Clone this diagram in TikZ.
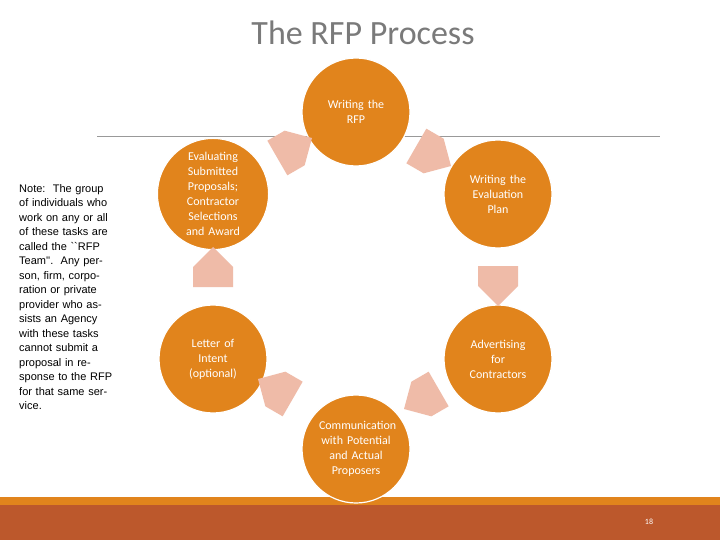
\documentclass[tikz,border=0pt]{standalone}
\usepackage{fontspec}
\setmainfont{Carlito}
\newfontfamily\notefont{Liberation Sans}
\usetikzlibrary{shapes.arrows}
\definecolor{org}{HTML}{E1841C}
\definecolor{dark}{HTML}{BC582C}
\definecolor{pinkarr}{HTML}{EFBBA8}
\definecolor{ttl}{HTML}{7A7A7A}
\begin{document}
\begin{tikzpicture}[x=1pt,y=-1pt,
  task/.style={circle,fill=org,draw=white,line width=1.2pt,minimum size=108pt,inner sep=0pt,text=white,align=center,font=\fontsize{12}{15}\selectfont,text width=74pt},
  flow/.style={single arrow,fill=pinkarr,draw=none,minimum height=40pt,minimum width=40pt,single arrow head extend=0pt,single arrow tip angle=90,inner sep=6pt}]
\useasboundingbox (0,0) rectangle (720,540);
\fill[white] (0,0) rectangle (720,540);
\fill[org] (0,497) rectangle (720,506);
\fill[dark] (0,505) rectangle (720,540);
\draw[gray!80,line width=0.8pt] (97,136) -- (660,136);
\node[text=ttl,font=\fontsize{34}{40}\selectfont] (title) at (363,33) {The RFP Process};
\node[task] (a) at (356,112) {Writing the\\RFP};
\node[task] (b) at (498,194) {Writing the\\Evaluation\\Plan};
\node[task] (c) at (498,359) {Advertising\\for\\Contractors};
\node[task] (d) at (356,449) {Communication\\with Potential\\and Actual\\Proposers};
\node[task] (e) at (213,359) {Letter of\\Intent\\(optional)};
\node[task] (f) at (213,194) {Evaluating\\Submitted\\Proposals;\\Contractor\\Selections\\and Award};
\node[flow,rotate=-30] (ab) at (425,151) {};
\node[flow,rotate=-90] (bc) at (498,276) {};
\node[flow,rotate=-150] (cd) at (430,394) {};
\node[flow,rotate=150] (de) at (284,394) {};
\node[flow,rotate=90] (ef) at (213,277) {};
\node[flow,rotate=30] (fa) at (286,153) {};
\node[anchor=north west,text width=100pt,align=left,font=\notefont\fontsize{11}{14.5}\selectfont,inner sep=0pt] (note) at (19,184) {Note:\ \ The group of individuals who work on any or all of these tasks are called the ``RFP Team''.\ \ Any person, firm, corporation or private provider who assists an Agency with these tasks cannot submit a proposal in response to the RFP for that same service.};
\node[text=white,font=\fontsize{8}{10}\selectfont] (pg) at (649,522) {18};
\end{tikzpicture}
\end{document}
